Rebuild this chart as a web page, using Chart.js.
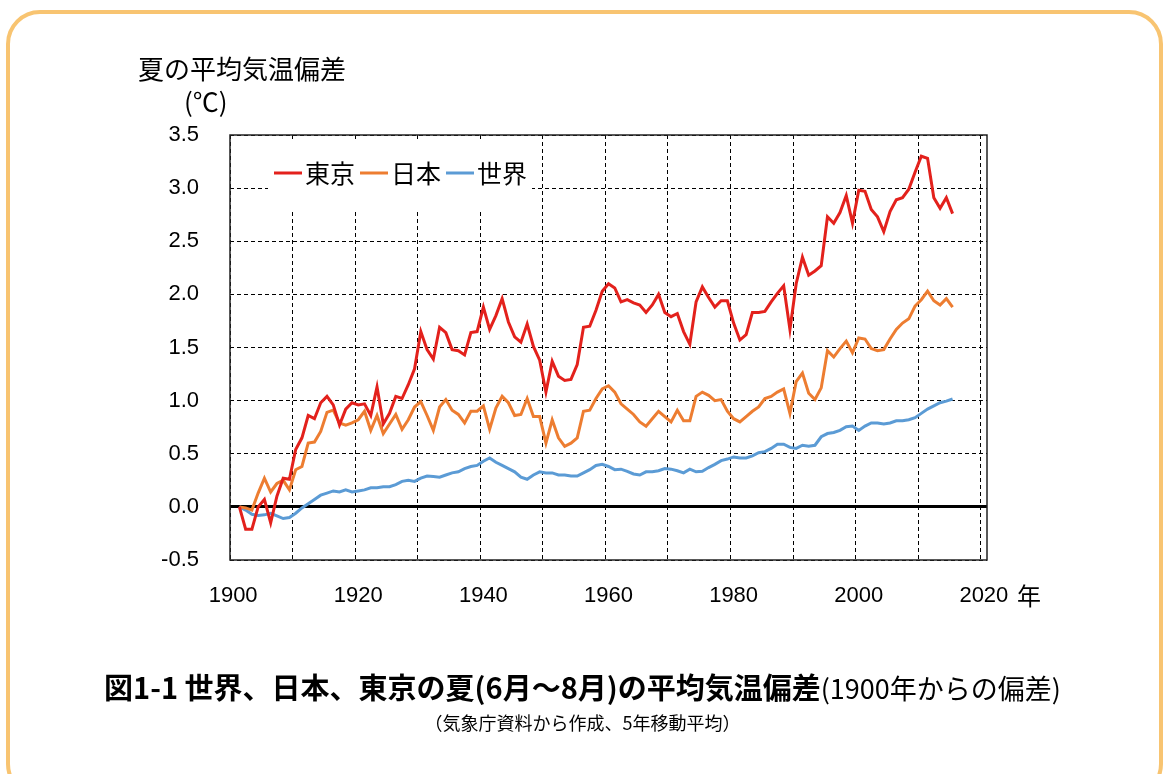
<!DOCTYPE html>
<html lang="ja">
<head>
    <meta charset="UTF-8">
    <title>世界、日本、東京の夏の平均気温偏差</title>
    <script src="https://cdn.jsdelivr.net/npm/chart.js"></script>
    <style>
        body {
            margin: 0;
            width: 1165px;
            height: 774px;
            overflow: hidden;
            background: #fff;
            position: relative;
            font-family: "Noto Sans CJK JP", sans-serif;
            color: #000;
        }
        #marco {
            position: absolute;
            left: 6px;
            top: 10px;
            width: 1149px;
            height: 780px;
            border: 4px solid #f8c471;
            border-radius: 34px;
        }
        #grafica {
            position: absolute;
            left: 0;
            top: 0;
        }
        .texto {
            position: absolute;
            line-height: 1;
            white-space: nowrap;
        }
        #ytitulo { left: 138px; top: 55px; font-size: 26px; }
        #yunidad { left: 184px; top: 88px; font-size: 26px; }
        #xunidad { left: 1017px; top: 583px; font-size: 24px; }
        #titulo { left: 0; width: 1165px; text-align: center; top: 672px; font-size: 29px; }
        #titulo b { font-weight: 700; }
        #titulo span { font-size: 27px; }
        #nota { left: 0; width: 1165px; text-align: center; top: 713px; font-size: 18px; }
    </style>
</head>
<body>
    <div id="marco"></div>
    <canvas id="grafica" width="1165" height="774"></canvas>
    <div class="texto" id="ytitulo">夏の平均気温偏差</div>
    <div class="texto" id="yunidad">(℃)</div>
    <div class="texto" id="xunidad">年</div>
    <div class="texto" id="titulo"><b>図1-1 世界、日本、東京の夏(6月～8月)の平均気温偏差</b><span>(1900年からの偏差)</span></div>
    <div class="texto" id="nota">（気象庁資料から作成、5年移動平均）</div>

    <script>
        // eje x: 1900 a 2020 (categorias)
        const anios = [];
        for (let a = 1900; a <= 2020; a++) anios.push(a);

        // valores desde 1901 hasta 2015 (5年移動平均)
        const tokio = [
            0.00, -0.21, -0.21, 0.00, 0.07, -0.15, 0.10, 0.27, 0.26, 0.54,
            0.65, 0.86, 0.83, 0.98, 1.04, 0.96, 0.77, 0.92, 0.98, 0.96,
            0.97, 0.86, 1.13, 0.78, 0.88, 1.04, 1.02, 1.15, 1.30, 1.65,
            1.48, 1.39, 1.69, 1.64, 1.48, 1.47, 1.43, 1.64, 1.65, 1.88,
            1.67, 1.80, 1.96, 1.74, 1.60, 1.55, 1.72, 1.51, 1.38, 1.08,
            1.37, 1.23, 1.19, 1.20, 1.34, 1.69, 1.70, 1.85, 2.03, 2.10,
            2.06, 1.93, 1.95, 1.92, 1.90, 1.83, 1.90, 2.00, 1.83, 1.79,
            1.82, 1.65, 1.53, 1.93, 2.07, 1.97, 1.88, 1.94, 1.94, 1.73,
            1.57, 1.62, 1.83, 1.83, 1.84, 1.93, 2.01, 2.08, 1.67, 2.10,
            2.35, 2.18, 2.22, 2.27, 2.73, 2.67, 2.77, 2.93, 2.67, 2.98,
            2.97, 2.80, 2.73, 2.59, 2.78, 2.89, 2.91, 2.99, 3.15, 3.30,
            3.28, 2.91, 2.81, 2.91, 2.76
        ];
        const japon = [
            0.00, -0.01, -0.03, 0.13, 0.27, 0.14, 0.22, 0.25, 0.16, 0.35,
            0.38, 0.60, 0.61, 0.71, 0.89, 0.91, 0.79, 0.77, 0.79, 0.82,
            0.90, 0.72, 0.86, 0.69, 0.78, 0.87, 0.73, 0.82, 0.94, 0.99,
            0.86, 0.72, 0.94, 1.01, 0.91, 0.87, 0.79, 0.90, 0.90, 0.95,
            0.73, 0.93, 1.04, 0.98, 0.86, 0.87, 1.02, 0.85, 0.85, 0.60,
            0.82, 0.65, 0.57, 0.60, 0.65, 0.90, 0.91, 1.02, 1.11, 1.14,
            1.08, 0.97, 0.92, 0.87, 0.80, 0.76, 0.83, 0.90, 0.85, 0.80,
            0.91, 0.81, 0.81, 1.04, 1.08, 1.05, 1.00, 1.01, 0.90, 0.83,
            0.80, 0.85, 0.90, 0.94, 1.02, 1.04, 1.08, 1.11, 0.88, 1.18,
            1.26, 1.07, 1.01, 1.12, 1.47, 1.41, 1.49, 1.56, 1.45, 1.59,
            1.58, 1.49, 1.47, 1.48, 1.58, 1.67, 1.73, 1.77, 1.89, 1.95,
            2.03, 1.94, 1.90, 1.96, 1.88
        ];
        const mundo = [
            0.00, -0.03, -0.07, -0.08, -0.075, -0.06, -0.085, -0.11, -0.10, -0.06,
            -0.01, 0.03, 0.07, 0.11, 0.13, 0.15, 0.14, 0.16, 0.14, 0.15,
            0.16, 0.18, 0.18, 0.19, 0.19, 0.21, 0.24, 0.25, 0.24, 0.27,
            0.29, 0.285, 0.28, 0.30, 0.32, 0.33, 0.36, 0.38, 0.39, 0.43,
            0.46, 0.42, 0.39, 0.36, 0.33, 0.28, 0.26, 0.30, 0.33, 0.32,
            0.32, 0.30, 0.30, 0.29, 0.29, 0.32, 0.35, 0.39, 0.40, 0.38,
            0.35, 0.355, 0.335, 0.31, 0.30, 0.33, 0.33, 0.34, 0.36, 0.355,
            0.34, 0.32, 0.355, 0.33, 0.335, 0.37, 0.40, 0.435, 0.45, 0.47,
            0.46, 0.46, 0.48, 0.51, 0.52, 0.55, 0.59, 0.59, 0.56, 0.55,
            0.58, 0.57, 0.58, 0.66, 0.69, 0.70, 0.72, 0.755, 0.76, 0.72,
            0.76, 0.79, 0.79, 0.78, 0.79, 0.81, 0.81, 0.82, 0.84, 0.88,
            0.92, 0.95, 0.98, 0.995, 1.015
        ];

        // la serie empieza en 1901, el 1900 queda vacio
        const desde1901 = arr => [null].concat(arr);

        // leyenda dentro del area, con fondo blanco
        const leyenda = {
            id: 'leyenda',
            beforeDatasetsDraw(chart) {
                const ctx = chart.ctx;
                const a = chart.chartArea;
                ctx.save();
                ctx.fillStyle = '#fff';
                ctx.fillRect(a.left + 38, a.top + 4, 264, 70);
                let x = a.left + 44;
                const y = a.top + 38;
                ctx.font = '25px "Noto Sans CJK JP"';
                ctx.textBaseline = 'middle';
                chart.data.datasets.forEach(ds => {
                    ctx.strokeStyle = ds.borderColor;
                    ctx.lineWidth = 3;
                    ctx.beginPath();
                    ctx.moveTo(x, y);
                    ctx.lineTo(x + 28, y);
                    ctx.stroke();
                    x += 31;
                    ctx.fillStyle = '#000';
                    ctx.fillText(ds.label, x, y);
                    x += ctx.measureText(ds.label).width + 5;
                });
                ctx.restore();
            },
            afterDraw(chart) {
                const ctx = chart.ctx;
                const a = chart.chartArea;
                ctx.save();
                ctx.strokeStyle = '#222';
                ctx.lineWidth = 1.5;
                ctx.strokeRect(a.left, a.top, a.right - a.left, a.bottom - a.top);
                ctx.restore();
            }
        };

        const fuenteTicks = { family: '"Liberation Sans", Arial, sans-serif', size: 22 };

        new Chart(document.getElementById('grafica'), {
            type: 'line',
            data: {
                labels: anios,
                datasets: [
                    { label: '東京', data: desde1901(tokio), borderColor: '#e3211c' },
                    { label: '日本', data: desde1901(japon), borderColor: '#ed7d31' },
                    { label: '世界', data: desde1901(mundo), borderColor: '#5b9bd5' }
                ]
            },
            options: {
                responsive: false,
                animation: false,
                devicePixelRatio: 1,
                layout: { padding: { left: 130, right: 178, top: 135, bottom: 154 } },
                elements: {
                    line: { borderWidth: 3, tension: 0 },
                    point: { radius: 0 }
                },
                plugins: {
                    legend: { display: false },
                    tooltip: { enabled: false }
                },
                scales: {
                    x: {
                        type: 'category',
                        offset: true,
                        afterFit: s => { s.height = 60; },
                        grid: {
                            offset: true,
                            drawTicks: false,
                            lineWidth: 1,
                            color: c => (c.tick && anios[c.index] % 10 === 0) ? '#000' : 'rgba(0,0,0,0)'
                        },
                        border: { display: false, dash: [4, 3] },
                        ticks: {
                            autoSkip: false,
                            maxRotation: 0,
                            minRotation: 0,
                            padding: 23,
                            color: '#000',
                            font: fuenteTicks,
                            callback: (v, i) => anios[i] % 20 === 0 ? String(anios[i]) : ''
                        }
                    },
                    y: {
                        min: -0.5,
                        max: 3.5,
                        afterFit: s => { s.width = 100; },
                        grid: {
                            drawTicks: false,
                            color: '#000',
                            lineWidth: c => (c.tick && c.tick.value === 0) ? 3 : 1
                        },
                        border: {
                            display: false,
                            dash: c => (c.tick && c.tick.value === 0) ? [] : [4, 3]
                        },
                        ticks: {
                            stepSize: 0.5,
                            padding: 31,
                            color: '#000',
                            font: fuenteTicks,
                            callback: v => v.toFixed(1)
                        }
                    }
                }
            },
            plugins: [leyenda]
        });
    </script>
</body>
</html>
